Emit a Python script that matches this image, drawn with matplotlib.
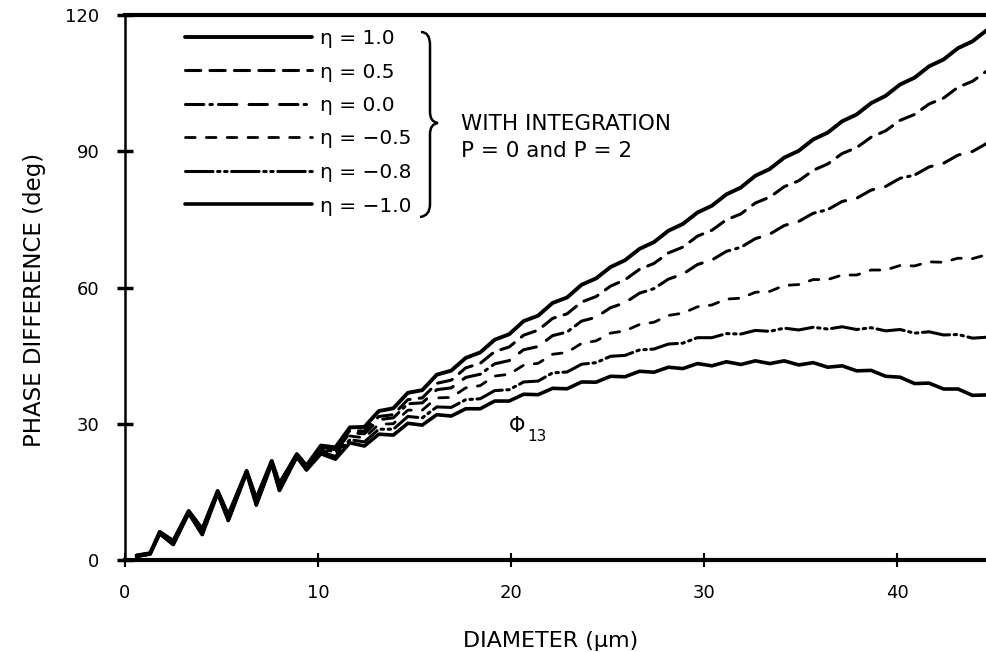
import numpy as np
import matplotlib
matplotlib.use("Agg")
import matplotlib.pyplot as plt
from matplotlib.path import Path
from matplotlib.patches import PathPatch

plt.rcParams['font.family'] = ['DejaVu Sans']

# small-diameter region: the curves nearly coincide here
d_start = [0.6, 1.3, 1.8, 2.5, 3.3, 4.0, 4.8, 5.35, 6.3, 6.8, 7.6, 8.0, 8.9]
phi_start_upper = [1.0, 1.5, 6.2, 4.2, 10.8, 6.8, 15.2, 9.9, 19.6, 13.5, 21.8, 16.8, 23.3]
phi_start_lower = [0.8, 1.3, 5.8, 3.4, 10.3, 5.6, 14.7, 8.7, 19.2, 12.1, 21.2, 15.3, 22.7]

# larger diameters, sampled every half ripple period
d_tail = [9.4, 10.15, 10.9, 11.65, 12.4, 13.15, 13.9, 14.65, 15.4, 16.15,
          16.9, 17.65, 18.4, 19.15, 19.9, 20.65, 21.4, 22.15, 22.9, 23.65,
          24.4, 25.15, 25.9, 26.65, 27.4, 28.15, 28.9, 29.65, 30.4, 31.15,
          31.9, 32.65, 33.4, 34.15, 34.9, 35.65, 36.4, 37.15, 37.9, 38.65,
          39.4, 40.15, 40.9, 41.65, 42.4, 43.15, 43.9, 44.65]

phi_eta_p10 = [20.8, 25.2, 24.8, 29.2, 29.3, 32.8, 33.4, 36.8, 37.4, 40.8,
               41.7, 44.5, 45.7, 48.5, 49.7, 52.6, 53.8, 56.6, 57.8, 60.6,
               62.0, 64.5, 66.0, 68.5, 70.0, 72.5, 74.0, 76.5, 78.0, 80.5,
               82.0, 84.6, 86.1, 88.6, 90.1, 92.6, 94.1, 96.6, 98.1, 100.6,
               102.2, 104.7, 106.2, 108.7, 110.2, 112.7, 114.2, 116.7]
phi_eta_p05 = [20.6, 24.8, 24.3, 28.5, 28.4, 31.6, 32.0, 35.3, 35.7, 38.9,
               39.6, 42.3, 43.3, 45.9, 46.9, 49.5, 50.6, 53.2, 54.2, 56.8,
               58.0, 60.3, 61.7, 64.0, 65.3, 67.6, 68.9, 71.3, 72.6, 74.9,
               76.2, 78.6, 79.9, 82.2, 83.5, 85.8, 87.2, 89.5, 90.8, 93.1,
               94.5, 96.8, 98.1, 100.4, 101.7, 104.1, 105.4, 107.7]
phi_eta_00 = [20.4, 24.5, 23.8, 28.0, 27.8, 30.9, 31.3, 34.4, 34.6, 37.5,
              37.9, 40.2, 40.9, 43.2, 43.9, 46.3, 47.0, 49.4, 50.2, 52.6,
              53.45, 55.55, 56.65, 58.75, 59.75, 61.85, 62.95, 65.05, 66.05, 67.95,
              68.85, 70.75, 71.75, 73.65, 74.55, 76.35, 77.15, 78.95, 79.65, 81.45,
              82.25, 84.05, 84.75, 86.55, 87.35, 89.15, 89.95, 91.75]
phi_eta_m05 = [20.2, 24.2, 23.3, 27.3, 26.9, 29.9, 30.0, 33.0, 33.0, 35.7,
               35.8, 37.9, 38.4, 40.5, 40.9, 42.9, 43.3, 45.3, 45.7, 47.7,
               48.25, 49.95, 50.45, 51.85, 52.35, 53.85, 54.35, 55.75, 56.15, 57.45,
               57.65, 58.95, 59.15, 60.45, 60.65, 61.75, 61.75, 62.75, 62.75, 63.85,
               63.85, 64.85, 64.75, 65.65, 65.55, 66.45, 66.35, 67.25]
phi_eta_m08 = [20.0, 23.8, 22.8, 26.5, 26.0, 28.8, 28.8, 31.6, 31.3, 33.7,
               33.6, 35.3, 35.5, 37.3, 37.5, 39.2, 39.4, 41.2, 41.4, 43.1,
               43.45, 44.85, 45.05, 46.25, 46.45, 47.55, 47.75, 48.95, 48.95, 49.85,
               49.75, 50.55, 50.35, 51.05, 50.65, 51.25, 50.85, 51.35, 50.75, 51.15,
               50.45, 50.75, 49.95, 50.25, 49.55, 49.65, 48.85, 49.05]
phi_eta_m10 = [19.8, 23.4, 22.2, 25.8, 25.1, 27.7, 27.5, 30.1, 29.7, 32.0,
               31.7, 33.3, 33.3, 35.0, 35.0, 36.5, 36.4, 37.8, 37.7, 39.2,
               39.15, 40.45, 40.35, 41.55, 41.35, 42.45, 42.15, 43.25, 42.75, 43.65,
               43.05, 43.85, 43.25, 43.85, 42.95, 43.45, 42.45, 42.75, 41.65, 41.75,
               40.45, 40.25, 38.85, 38.95, 37.65, 37.65, 36.25, 36.35]

eta_labels = ["η = 1.0", "η = 0.5", "η = 0.0", "η = −0.5", "η = −0.8", "η = −1.0"]
tails = [phi_eta_p10, phi_eta_p05, phi_eta_00, phi_eta_m05, phi_eta_m08, phi_eta_m10]
starts = [phi_start_upper] * 3 + [phi_start_lower] * 3
styles = [
    dict(ls='-', lw=2.8),
    dict(ls=(0, (5, 3)), lw=2.2),
    dict(ls=(0, (6, 2, 0.8, 2, 6, 4, 6, 4)), lw=2.2),
    dict(ls=(0, (3.5, 4)), lw=2.0),
    dict(ls=(0, (9, 1.5, 0.8, 1.5, 0.8, 1.5)), lw=2.2),
    dict(ls='-', lw=2.6),
]

W, H = 986, 652
fig = plt.figure(figsize=(W / 100, H / 100), dpi=100)
ax = fig.add_axes([125 / W, 1 - 560 / H, 1 - 125 / W, (560 - 15) / H])

lines = []
for lab, head, tail, st in zip(eta_labels, starts, tails, styles):
    d = np.concatenate([d_start, d_tail])
    phi = np.concatenate([head, tail])
    ln, = ax.plot(d, phi, color='black', solid_capstyle='round',
                  dash_capstyle='round', solid_joinstyle='round', label=lab, **st)
    lines.append(ln)

ax.set_xlim(0, 44.6)
ax.set_ylim(0, 120)
ax.set_xticks([0, 10, 20, 30, 40])
ax.set_yticks([0, 30, 60, 90, 120])
ax.spines['right'].set_visible(False)
ax.spines['top'].set_linewidth(3)
ax.spines['bottom'].set_linewidth(3)
ax.spines['left'].set_linewidth(1.8)
ax.tick_params(axis='y', direction='inout', length=11, width=2.5, labelsize=13, pad=13)
ax.tick_params(axis='x', direction='inout', length=10, width=1.5, labelsize=13, pad=12)

# legend block with brace and note
ax.legend(handles=lines, loc='upper left', bbox_to_anchor=(185 / W, 1 - 29 / H),
          bbox_transform=fig.transFigure, frameon=False, fontsize=14.5,
          handlelength=6.3, handletextpad=0.4, labelspacing=0.72, borderpad=0,
          borderaxespad=0)


def fpx(x, y):
    return (x / W, 1 - y / H)


brace_pts = [(421, 32), (430, 32), (430, 45), (430, 112), (430, 122), (438, 123),
             (430, 124), (430, 134), (430, 204), (430, 216), (420, 217)]
brace_codes = [Path.MOVETO, Path.CURVE3, Path.CURVE3, Path.LINETO, Path.CURVE3,
               Path.CURVE3, Path.CURVE3, Path.CURVE3, Path.LINETO, Path.CURVE3, Path.CURVE3]
brace = PathPatch(Path([fpx(*p) for p in brace_pts], brace_codes), fill=False,
                  lw=1.8, color='black', transform=fig.transFigure)
fig.patches.append(brace)

fig.text(*fpx(461, 124), "WITH INTEGRATION", fontsize=15.5, va='center', ha='left')
fig.text(*fpx(461, 151), "P = 0 and P = 2", fontsize=15.5, va='center', ha='left')

ax.text(20.3, 29.4, "Φ", fontsize=15, va='center', ha='center')
ax.text(20.85, 27.2, "13", fontsize=11, va='center', ha='left')

fig.text(*fpx(35, 300), "PHASE DIFFERENCE (deg)", fontsize=16.5, rotation=90,
         va='center', ha='center')
fig.text(*fpx(463, 647), "DIAMETER (μm)", fontsize=16, va='baseline', ha='left')

fig.savefig("out.png", dpi=100)
